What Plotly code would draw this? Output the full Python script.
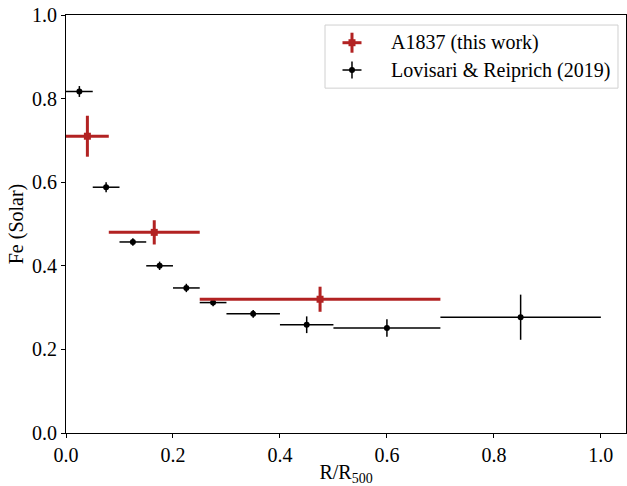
import plotly.graph_objects as go

# A1837 (this work): iron abundance profile
a1837_r = [0.04, 0.165, 0.475]
a1837_rerr = [0.04, 0.085, 0.225]
a1837_fe = [0.710, 0.480, 0.320]
a1837_feerr = [0.049, 0.029, 0.030]

# Lovisari & Reiprich (2019) average profile
lr_r = [0.025, 0.075, 0.125, 0.175, 0.225, 0.275, 0.35, 0.45, 0.60, 0.85]
lr_rerr = [0.025, 0.025, 0.025, 0.025, 0.025, 0.025, 0.05, 0.05, 0.10, 0.15]
lr_fe = [0.817, 0.588, 0.457, 0.400, 0.347, 0.312, 0.285, 0.259, 0.251, 0.277]
lr_feerr = [0.013, 0.012, 0.009, 0.010, 0.010, 0.009, 0.009, 0.020, 0.021, 0.054]

x_ticks = [0.0, 0.2, 0.4, 0.6, 0.8, 1.0]
y_ticks = [0.0, 0.2, 0.4, 0.6, 0.8, 1.0]
legend_labels = ["A1837 (this work)", "Lovisari & Reiprich (2019)"]

RED = "#b22222"
FONT = "Times New Roman, Liberation Serif, serif"
FS = 20

fig = go.Figure()

fig.add_trace(go.Scatter(
    x=lr_r, y=lr_fe, mode="markers",
    marker=dict(symbol="circle", size=6, color="black"),
    error_x=dict(type="data", array=lr_rerr, color="black", thickness=1.5, width=0),
    error_y=dict(type="data", array=lr_feerr, color="black", thickness=1.5, width=0),
    showlegend=False,
))

fig.add_trace(go.Scatter(
    x=a1837_r, y=a1837_fe, mode="markers",
    marker=dict(symbol="square", size=7, color=RED),
    error_x=dict(type="data", array=a1837_rerr, color=RED, thickness=3, width=0),
    error_y=dict(type="data", array=a1837_feerr, color=RED, thickness=3, width=0),
    showlegend=False,
))

# hand-built legend box with errorbar-style keys
shapes = []
annotations = []
shapes.append(dict(type="rect", xref="paper", yref="paper",
                   x0=0.4625, x1=0.9857, y0=0.825, y1=0.976,
                   line=dict(color="#d0d0d0", width=1), fillcolor="rgba(255,255,255,0.8)",
                   layer="above"))
keys = [
    dict(y=0.9337, color=RED, lw=3, hx=9.5, hy=10, sym="square", ms=7),
    dict(y=0.8684, color="black", lw=1.5, hx=9.5, hy=8.5, sym="circle", ms=6),
]
kx = 0.5107
for k, label in zip(keys, legend_labels):
    shapes.append(dict(type="line", xref="paper", yref="paper", xsizemode="pixel", ysizemode="pixel",
                       xanchor=kx, yanchor=k["y"], x0=-k["hx"], x1=k["hx"], y0=0, y1=0,
                       line=dict(color=k["color"], width=k["lw"]), layer="above"))
    shapes.append(dict(type="line", xref="paper", yref="paper", xsizemode="pixel", ysizemode="pixel",
                       xanchor=kx, yanchor=k["y"], x0=0, x1=0, y0=-k["hy"], y1=k["hy"],
                       line=dict(color=k["color"], width=k["lw"]), layer="above"))
    r = k["ms"] / 2
    shapes.append(dict(type="rect" if k["sym"] == "square" else "circle",
                       xref="paper", yref="paper", xsizemode="pixel", ysizemode="pixel",
                       xanchor=kx, yanchor=k["y"], x0=-r, x1=r, y0=-r, y1=r,
                       fillcolor=k["color"], line=dict(width=0), layer="above"))
    annotations.append(dict(text=label, xref="paper", yref="paper", x=0.577, y=k["y"],
                            xanchor="left", yanchor="middle", showarrow=False,
                            font=dict(family=FONT, size=FS, color="black")))

axis_common = dict(
    showline=True, linecolor="black", linewidth=1, mirror=True,
    ticks="outside", ticklen=4, tickwidth=1, tickcolor="black",
    showgrid=False, zeroline=False,
    tickfont=dict(family=FONT, size=FS, color="black"),
)

fig.update_layout(
    width=627, height=486,
    margin=dict(l=66, r=1, t=15, b=53),
    paper_bgcolor="white", plot_bgcolor="white",
    xaxis=dict(range=[0, 1.047], tickvals=x_ticks, ticktext=[f"{v:.1f}" for v in x_ticks],
               title=dict(text="R/R<sub>500</sub>", font=dict(family=FONT, size=FS, color="black"), standoff=0),
               **axis_common),
    yaxis=dict(range=[0, 1.0], tickvals=y_ticks, ticktext=[f"{v:.1f}" for v in y_ticks],
               title=dict(text="Fe (Solar)", font=dict(family=FONT, size=FS, color="black"), standoff=3),
               **axis_common),
    shapes=shapes, annotations=annotations,
    showlegend=False,
)

fig.write_html("out.html")
